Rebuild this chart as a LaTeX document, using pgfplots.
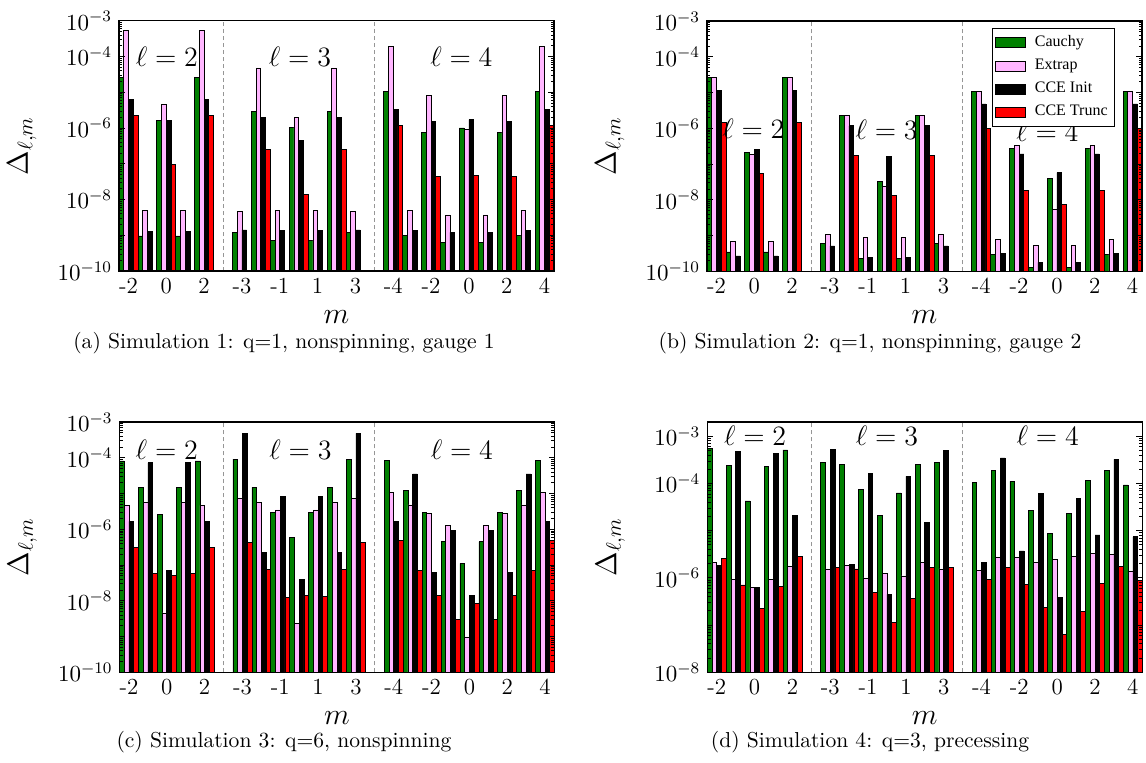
\RequirePackage{fix-cm}
\documentclass[border=0pt]{standalone}
\usepackage{fontspec}
\newfontfamily\legfont{Liberation Serif}
\usepackage{pgfplots}
\usepackage{pgfplotstable}
\pgfplotsset{compat=1.18}
\definecolor{cgreen}{RGB}{0,128,0}
\definecolor{cpink}{RGB}{255,182,255}
\definecolor{cred}{RGB}{255,0,0}
\definecolor{cdash}{RGB}{150,150,150}

% slot x: l=2 m=-2..2 -> 0..4 ; l=3 m=-3..3 -> 6..12 ; l=4 m=-4..4 -> 14..22
\pgfplotstableread{
x g p b r
0 2.63e-5 5.25e-4 6.17e-6 2.19e-6
1 9.55e-10 5.01e-9 1.26e-9 nan
2 1.62e-6 4.47e-6 1.62e-6 9.77e-8
3 9.55e-10 5.01e-9 1.26e-9 nan
4 2.63e-5 5.25e-4 6.17e-6 2.19e-6
6 1.20e-9 4.68e-9 1.41e-9 nan
7 2.88e-6 4.79e-5 1.95e-6 2.51e-7
8 7.08e-10 4.90e-9 1.35e-9 nan
9 1.05e-6 1.95e-6 4.37e-7 1.41e-8
10 7.08e-10 4.90e-9 1.35e-9 nan
11 2.88e-6 4.79e-5 1.95e-6 2.51e-7
12 1.20e-9 4.68e-9 1.41e-9 nan
14 1.05e-5 1.95e-4 3.24e-6 1.15e-6
15 1.0e-9 5.01e-9 1.38e-9 nan
16 7.59e-7 7.94e-6 1.51e-6 4.47e-8
17 6.31e-10 3.72e-9 1.20e-9 nan
18 1.0e-6 9.12e-7 1.70e-6 4.68e-8
19 6.31e-10 3.72e-9 1.20e-9 nan
20 7.59e-7 7.94e-6 1.51e-6 4.47e-8
21 1.0e-9 5.01e-9 1.38e-9 nan
22 1.05e-5 1.95e-4 3.24e-6 1.15e-6
}\tblA

\pgfplotstableread{
x g p b r
0 2.63e-5 2.63e-5 1.12e-5 1.45e-6
1 3.47e-10 6.92e-10 2.69e-10 nan
2 2.09e-7 1.82e-7 2.51e-7 5.50e-8
3 3.47e-10 6.92e-10 2.69e-10 nan
4 2.63e-5 2.63e-5 1.12e-5 1.45e-6
6 5.89e-10 1.05e-9 5.13e-10 nan
7 2.34e-6 2.34e-6 1.17e-6 1.74e-7
8 2.24e-10 8.71e-10 2.51e-10 nan
9 3.24e-8 2.34e-8 1.62e-7 1.32e-8
10 2.24e-10 8.71e-10 2.51e-10 nan
11 2.34e-6 2.34e-6 1.17e-6 1.74e-7
12 5.89e-10 1.05e-9 5.13e-10 nan
14 1.10e-5 1.10e-5 4.79e-6 9.77e-7
15 3.02e-10 7.94e-10 3.16e-10 nan
16 2.69e-7 3.31e-7 1.91e-7 1.82e-8
17 1.26e-10 5.25e-10 1.78e-10 nan
18 3.89e-8 5.25e-9 5.75e-8 7.41e-9
19 1.26e-10 5.25e-10 1.78e-10 nan
20 2.69e-7 3.31e-7 1.91e-7 1.82e-8
21 3.02e-10 7.94e-10 3.16e-10 nan
22 1.10e-5 1.10e-5 4.79e-6 9.77e-7
}\tblB

\pgfplotstableread{
x g p b r
0 8.13e-5 4.68e-6 1.66e-6 3.09e-7
1 1.48e-5 5.75e-6 7.24e-5 5.89e-8
2 2.63e-6 4.57e-9 7.24e-8 5.13e-8
3 1.48e-5 5.75e-6 7.24e-5 5.89e-8
4 8.13e-5 4.68e-6 1.66e-6 3.09e-7
6 9.12e-5 7.41e-6 4.79e-4 4.37e-7
7 1.48e-5 5.62e-6 2.29e-7 7.59e-8
8 2.95e-6 3.47e-6 8.13e-6 1.26e-8
9 5.89e-7 2.29e-9 3.89e-8 1.41e-8
10 2.95e-6 3.47e-6 8.13e-6 1.35e-8
11 1.48e-5 5.62e-6 2.29e-7 7.59e-8
12 9.12e-5 7.41e-6 4.79e-4 4.37e-7
14 8.32e-5 1.07e-5 1.62e-6 4.90e-7
15 1.23e-5 4.79e-6 3.55e-5 7.24e-8
16 2.95e-6 2.82e-6 6.31e-8 1.41e-8
17 4.47e-7 1.29e-6 9.12e-7 3.02e-9
18 1.12e-7 9.77e-10 1.41e-8 8.32e-9
19 4.47e-7 1.29e-6 9.12e-7 3.02e-9
20 2.95e-6 2.82e-6 6.31e-8 1.41e-8
21 1.23e-5 4.79e-6 3.55e-5 7.24e-8
22 8.32e-5 1.07e-5 1.62e-6 4.90e-7
}\tblC

\pgfplotstableread{
x g p b r
0 5.50e-4 2.14e-6 1.82e-6 2.63e-6
1 2.45e-4 9.33e-7 4.68e-4 7.08e-7
2 4.27e-5 6.31e-7 6.31e-7 2.24e-7
3 2.34e-4 9.12e-7 4.37e-4 6.46e-7
4 5.13e-4 1.74e-6 2.14e-5 2.82e-6
6 2.82e-4 1.55e-6 5.25e-4 1.66e-6
7 2.57e-4 1.82e-6 1.95e-6 1.55e-6
8 7.59e-5 1.0e-6 1.66e-4 4.90e-7
9 2.14e-5 1.23e-6 4.47e-7 1.15e-7
10 6.31e-5 1.10e-6 1.41e-4 3.63e-7
11 2.57e-4 2.14e-6 1.48e-5 1.70e-6
12 2.75e-4 1.55e-6 5.01e-4 1.70e-6
14 1.05e-4 1.45e-6 2.09e-6 9.12e-7
15 1.91e-4 2.75e-6 3.47e-4 1.70e-6
16 1.10e-4 2.75e-6 3.72e-6 7.24e-7
17 2.69e-5 2.09e-6 6.17e-5 2.34e-7
18 8.71e-6 2.45e-6 3.89e-7 6.46e-8
19 2.29e-5 2.88e-6 4.90e-5 1.91e-7
20 1.15e-4 3.31e-6 8.13e-6 7.76e-7
21 1.86e-4 3.16e-6 3.24e-4 1.78e-6
22 9.33e-5 1.38e-6 7.41e-6 8.91e-7
}\tblD

\pgfplotsset{
  rsPanel/.style={
    scale only axis, width=217.5pt, height=125.15pt,
    log origin=infty,
    xmin=-0.5, xmax=22.5,
    xtick={0,2,4,6,8,10,12,14,16,18,20,22},
    xticklabels={-2,0,2,-3,-1,1,3,-4,-2,0,2,4},
    x tick style={draw=none},
    tick label style={font=\fontsize{11.5}{13}\selectfont},
    axis on top,
    axis line style={line width=0.55pt},
    major tick length=3pt, minor tick length=1.6pt,
    y tick style={line width=0.4pt, black},
    xlabel={$m$}, ylabel={$\Delta_{\ell,m}$},
    label style={font=\fontsize{15}{18}\selectfont},
    xlabel style={at={(axis description cs:0.5,-0.208)}, anchor=base},
    ylabel style={at={(axis description cs:-0.223,0.5)}, anchor=center},
  },
  rsTen/.style={
    ymin=1e-10, ymax=1e-3,
    ytick={1e-10,1e-9,1e-8,1e-7,1e-6,1e-5,1e-4,1e-3},
    yticklabels={$10^{-10}$,,$10^{-8}$,,$10^{-6}$,,$10^{-4}$,$10^{-3}$},
    minor ytick={2e-10,3e-10,4e-10,5e-10,6e-10,7e-10,8e-10,9e-10,
      2e-9,3e-9,4e-9,5e-9,6e-9,7e-9,8e-9,9e-9,
      2e-8,3e-8,4e-8,5e-8,6e-8,7e-8,8e-8,9e-8,
      2e-7,3e-7,4e-7,5e-7,6e-7,7e-7,8e-7,9e-7,
      2e-6,3e-6,4e-6,5e-6,6e-6,7e-6,8e-6,9e-6,
      2e-5,3e-5,4e-5,5e-5,6e-5,7e-5,8e-5,9e-5,
      2e-4,3e-4,4e-4,5e-4,6e-4,7e-4,8e-4,9e-4},
  },
}
\tikzset{
  rsDash/.style={draw=cdash, dash pattern=on 2pt off 1.5pt, line width=0.5pt},
  rsEll/.style={font=\fontsize{14}{16}\selectfont},
  rsCap/.style={anchor=base, font=\fontsize{10.8}{13}\selectfont},
}

\begin{document}
\begin{tikzpicture}
\useasboundingbox (0,0) rectangle (573pt,-381pt);

% (a)
\begin{axis}[ymode=log, rsPanel, rsTen, at={(59.5pt,-10.35pt)}, anchor=north west]
\addplot[ybar, bar width=0.25, bar shift=-0.375, fill=cgreen, draw=black, line width=0.35pt] table[x=x,y=g]{\tblA};
\addplot[ybar, bar width=0.25, bar shift=-0.125, fill=cpink, draw=black, line width=0.35pt] table[x=x,y=p]{\tblA};
\addplot[ybar, bar width=0.25, bar shift=0.125, fill=black, draw=black, line width=0.35pt] table[x=x,y=b]{\tblA};
\addplot[ybar, bar width=0.25, bar shift=0.375, fill=cred, draw=black, line width=0.35pt] table[x=x,y=r]{\tblA};
\draw[rsDash] (axis cs:5,1e-10) -- (axis cs:5,1e-3);
\draw[rsDash] (axis cs:13,1e-10) -- (axis cs:13,1e-3);
\node[rsEll] at (axis cs:2.03,9.8e-5) {$\ell = 2$};
\node[rsEll] at (axis cs:9.07,9.8e-5) {$\ell = 3$};
\node[rsEll] at (axis cs:17.6,9.8e-5) {$\ell = 4$};
\end{axis}

% (b)
\begin{axis}[ymode=log, rsPanel, rsTen, at={(353.5pt,-10.5pt)}, anchor=north west,
  legend style={at={(0.938,0.972)}, anchor=north east,
    font=\legfont\fontsize{8}{9.5}\selectfont, draw=black, line width=0.4pt,
    inner sep=1.5pt, row sep=0.8pt},
  legend cell align=left]
\addplot[ybar, bar width=0.25, bar shift=-0.375, fill=cgreen, draw=black, line width=0.35pt,
  legend image code/.code={\draw[fill=cgreen, draw=black, line width=0.35pt] (0pt,-2.5pt) rectangle (15pt,2.5pt); \path (17.5pt,0pt);}] table[x=x,y=g]{\tblB};
\addplot[ybar, bar width=0.25, bar shift=-0.125, fill=cpink, draw=black, line width=0.35pt,
  legend image code/.code={\draw[fill=cpink, draw=black, line width=0.35pt] (0pt,-2.5pt) rectangle (15pt,2.5pt); \path (17.5pt,0pt);}] table[x=x,y=p]{\tblB};
\addplot[ybar, bar width=0.25, bar shift=0.125, fill=black, draw=black, line width=0.35pt,
  legend image code/.code={\draw[fill=black, draw=black, line width=0.35pt] (0pt,-2.5pt) rectangle (15pt,2.5pt); \path (17.5pt,0pt);}] table[x=x,y=b]{\tblB};
\addplot[ybar, bar width=0.25, bar shift=0.375, fill=cred, draw=black, line width=0.35pt,
  legend image code/.code={\draw[fill=cred, draw=black, line width=0.35pt] (0pt,-2.5pt) rectangle (15pt,2.5pt); \path (17.5pt,0pt);}] table[x=x,y=r]{\tblB};
\legend{Cauchy,Extrap,CCE Init,CCE Trunc}
\draw[rsDash] (axis cs:5,1e-10) -- (axis cs:5,1e-3);
\draw[rsDash] (axis cs:13,1e-10) -- (axis cs:13,1e-3);
\node[rsEll] at (axis cs:1.95,1e-6) {$\ell = 2$};
\node[rsEll] at (axis cs:9.0,9e-7) {$\ell = 3$};
\node[rsEll] at (axis cs:17.5,8e-7) {$\ell = 4$};
\end{axis}

% (c)
\begin{axis}[ymode=log, rsPanel, rsTen, at={(59.75pt,-211pt)}, anchor=north west]
\addplot[ybar, bar width=0.25, bar shift=-0.375, fill=cgreen, draw=black, line width=0.35pt] table[x=x,y=g]{\tblC};
\addplot[ybar, bar width=0.25, bar shift=-0.125, fill=cpink, draw=black, line width=0.35pt] table[x=x,y=p]{\tblC};
\addplot[ybar, bar width=0.25, bar shift=0.125, fill=black, draw=black, line width=0.35pt] table[x=x,y=b]{\tblC};
\addplot[ybar, bar width=0.25, bar shift=0.375, fill=cred, draw=black, line width=0.35pt] table[x=x,y=r]{\tblC};
\draw[rsDash] (axis cs:5,1e-10) -- (axis cs:5,1e-3);
\draw[rsDash] (axis cs:13,1e-10) -- (axis cs:13,1e-3);
\node[rsEll] at (axis cs:2.0,1.66e-4) {$\ell = 2$};
\node[rsEll] at (axis cs:9.07,1.66e-4) {$\ell = 3$};
\node[rsEll] at (axis cs:17.6,1.66e-4) {$\ell = 4$};
\end{axis}

% (d)
\begin{axis}[ymode=log, rsPanel, at={(353.65pt,-211pt)}, anchor=north west,
  ymin=1e-8, ymax=2e-3,
  ytick={1e-8,1e-7,1e-6,1e-5,1e-4,1e-3},
  yticklabels={$10^{-8}$,,$10^{-6}$,,$10^{-4}$,$10^{-3}$},
  minor ytick={2e-8,3e-8,4e-8,5e-8,6e-8,7e-8,8e-8,9e-8,
      2e-7,3e-7,4e-7,5e-7,6e-7,7e-7,8e-7,9e-7,
      2e-6,3e-6,4e-6,5e-6,6e-6,7e-6,8e-6,9e-6,
      2e-5,3e-5,4e-5,5e-5,6e-5,7e-5,8e-5,9e-5,
      2e-4,3e-4,4e-4,5e-4,6e-4,7e-4,8e-4,9e-4}]
\addplot[ybar, bar width=0.25, bar shift=-0.375, fill=cgreen, draw=black, line width=0.35pt] table[x=x,y=g]{\tblD};
\addplot[ybar, bar width=0.25, bar shift=-0.125, fill=cpink, draw=black, line width=0.35pt] table[x=x,y=p]{\tblD};
\addplot[ybar, bar width=0.25, bar shift=0.125, fill=black, draw=black, line width=0.35pt] table[x=x,y=b]{\tblD};
\addplot[ybar, bar width=0.25, bar shift=0.375, fill=cred, draw=black, line width=0.35pt] table[x=x,y=r]{\tblD};
\draw[rsDash] (axis cs:5,1e-8) -- (axis cs:5,2e-3);
\draw[rsDash] (axis cs:13,1e-8) -- (axis cs:13,2e-3);
\node[rsEll] at (axis cs:2.03,1.03e-3) {$\ell = 2$};
\node[rsEll] at (axis cs:9.0,1.03e-3) {$\ell = 3$};
\node[rsEll] at (axis cs:17.5,1.03e-3) {$\ell = 4$};
\end{axis}

\node[rsCap] at (142pt,-174pt) {(a) Simulation 1: q=1, nonspinning, gauge 1};
\node[rsCap] at (435pt,-174pt) {(b) Simulation 2: q=1, nonspinning, gauge 2};
\node[rsCap] at (142pt,-373.5pt) {(c) Simulation 3: q=6, nonspinning};
\node[rsCap] at (435pt,-373.5pt) {(d) Simulation 4: q=3, precessing};
\end{tikzpicture}
\end{document}
